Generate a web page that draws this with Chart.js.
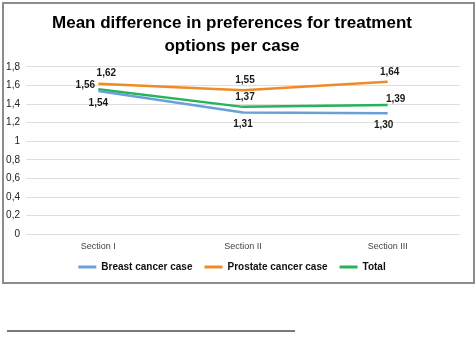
<!DOCTYPE html>
<html>
<head>
<meta charset="utf-8">
<script src="https://cdn.jsdelivr.net/npm/chart.js@4/dist/chart.umd.min.js"></script>
<style>
  body { margin: 0; background: #fff; width: 476px; height: 338px; position: relative; }
  .box { position: absolute; left: 2px; top: 2px; width: 469px; height: 278px; border: 2px solid #8c8c8c; }
  .rule { position: absolute; left: 7px; top: 330px; width: 288px; height: 2px; background: #7a7a7a; }
</style>
</head>
<body>
<div class="box"><canvas id="myChart" width="469" height="278"></canvas></div>
<div class="rule"></div>
<script>
// categories and values
const sections = ['Section I', 'Section II', 'Section III'];
const breast = [1.54, 1.31, 1.30];
const prostate = [1.62, 1.55, 1.64];
const total = [1.56, 1.37, 1.39];
const yTicks = [0, 0.2, 0.4, 0.6, 0.8, 1, 1.2, 1.4, 1.6, 1.8];

const ctx = document.getElementById('myChart');

// where each value label sits relative to its point
const labelPos = [
    ['below', 'below', 'below'],
    ['above', 'above', 'above'],
    ['left', 'above', 'right']
];

const fmt = v => v.toFixed(2).replace('.', ',');

const valueLabels = {
    id: 'valueLabels',
    afterDatasetsDraw(chart) {
        const c = chart.ctx;
        c.save();
        c.font = 'bold 10px "Liberation Sans", Arial, sans-serif';
        c.fillStyle = '#1a1a1a';
        c.textAlign = 'center';
        c.textBaseline = 'middle';
        chart.data.datasets.forEach((ds, di) => {
            const meta = chart.getDatasetMeta(di);
            meta.data.forEach((pt, i) => {
                let x = pt.x, y = pt.y;
                const pos = labelPos[di][i];
                if (pos === 'above') { y -= 10; x += (i === 0 ? 8 : 2); }
                if (pos === 'below') { y += 12; x += (i === 2 ? -4 : 0); }
                if (pos === 'left') { x -= 13; y -= 4; }
                if (pos === 'right') { x += 8; y -= 6; }
                c.fillText(fmt(ds.data[i]), x, y);
            });
        });
        c.restore();
    }
};

// legend keeps its horizontal padding but takes less room above the items
const LEGEND_TRIM = 9;
const tightLegend = {
    id: 'tightLegend',
    afterInit(chart) {
        const lg = chart.legend;
        const fit = lg.fit;
        lg.fit = function () { fit.call(this); this.height -= LEGEND_TRIM; };
        const draw = lg.draw;
        lg.draw = function () {
            this.ctx.save();
            this.ctx.translate(0, -LEGEND_TRIM);
            draw.call(this);
            this.ctx.restore();
        };
    }
};

const chart = new Chart(ctx, {
    type: 'line',
    data: {
        labels: sections,
        datasets: [
            { label: 'Breast cancer case', data: breast, borderColor: '#6a9fd8', backgroundColor: '#6a9fd8' },
            { label: 'Prostate cancer case', data: prostate, borderColor: '#f08a24', backgroundColor: '#f08a24' },
            { label: 'Total', data: total, borderColor: '#27b35a', backgroundColor: '#27b35a' }
        ]
    },
    options: {
        responsive: false,
        animation: false,
        layout: { padding: { left: 0, right: 13, top: 2, bottom: 0 } },
        elements: {
            line: { borderWidth: 2.5, tension: 0 },
            point: { radius: 0 }
        },
        scales: {
            x: {
                offset: true,
                grid: { display: false, drawTicks: false },
                border: { display: false },
                ticks: { color: '#444', font: { size: 9, family: '"Liberation Sans", Arial, sans-serif' }, padding: 7 }
            },
            y: {
                min: 0,
                max: 1.8,
                afterBuildTicks: axis => { axis.ticks = yTicks.map(v => ({ value: v })); },
                afterFit: axis => { axis.width = 22; },
                grid: { color: '#dedede', drawTicks: false },
                border: { display: false },
                ticks: {
                    color: '#222',
                    padding: 6,
                    font: { size: 10, family: '"Liberation Sans", Arial, sans-serif' },
                    callback: v => String(v).replace('.', ',')
                }
            }
        },
        plugins: {
            title: {
                display: true,
                text: ['Mean difference in preferences for treatment', 'options per case'],
                color: '#000',
                font: { size: 17, weight: 'bold', family: '"Liberation Sans", Arial, sans-serif', lineHeight: 1.35 },
                padding: { top: 6, bottom: 9 }
            },
            legend: {
                position: 'bottom',
                labels: {
                    boxWidth: 18,
                    boxHeight: 3,
                    padding: 12,
                    color: '#111',
                    font: { size: 10, weight: 'bold', family: '"Liberation Sans", Arial, sans-serif' },
                    generateLabels: ch => Chart.defaults.plugins.legend.labels.generateLabels(ch).map(l => ({ ...l, lineWidth: 0 }))
                }
            },
            tooltip: { enabled: false }
        }
    },
    plugins: [valueLabels, tightLegend]
});
</script>
</body>
</html>
